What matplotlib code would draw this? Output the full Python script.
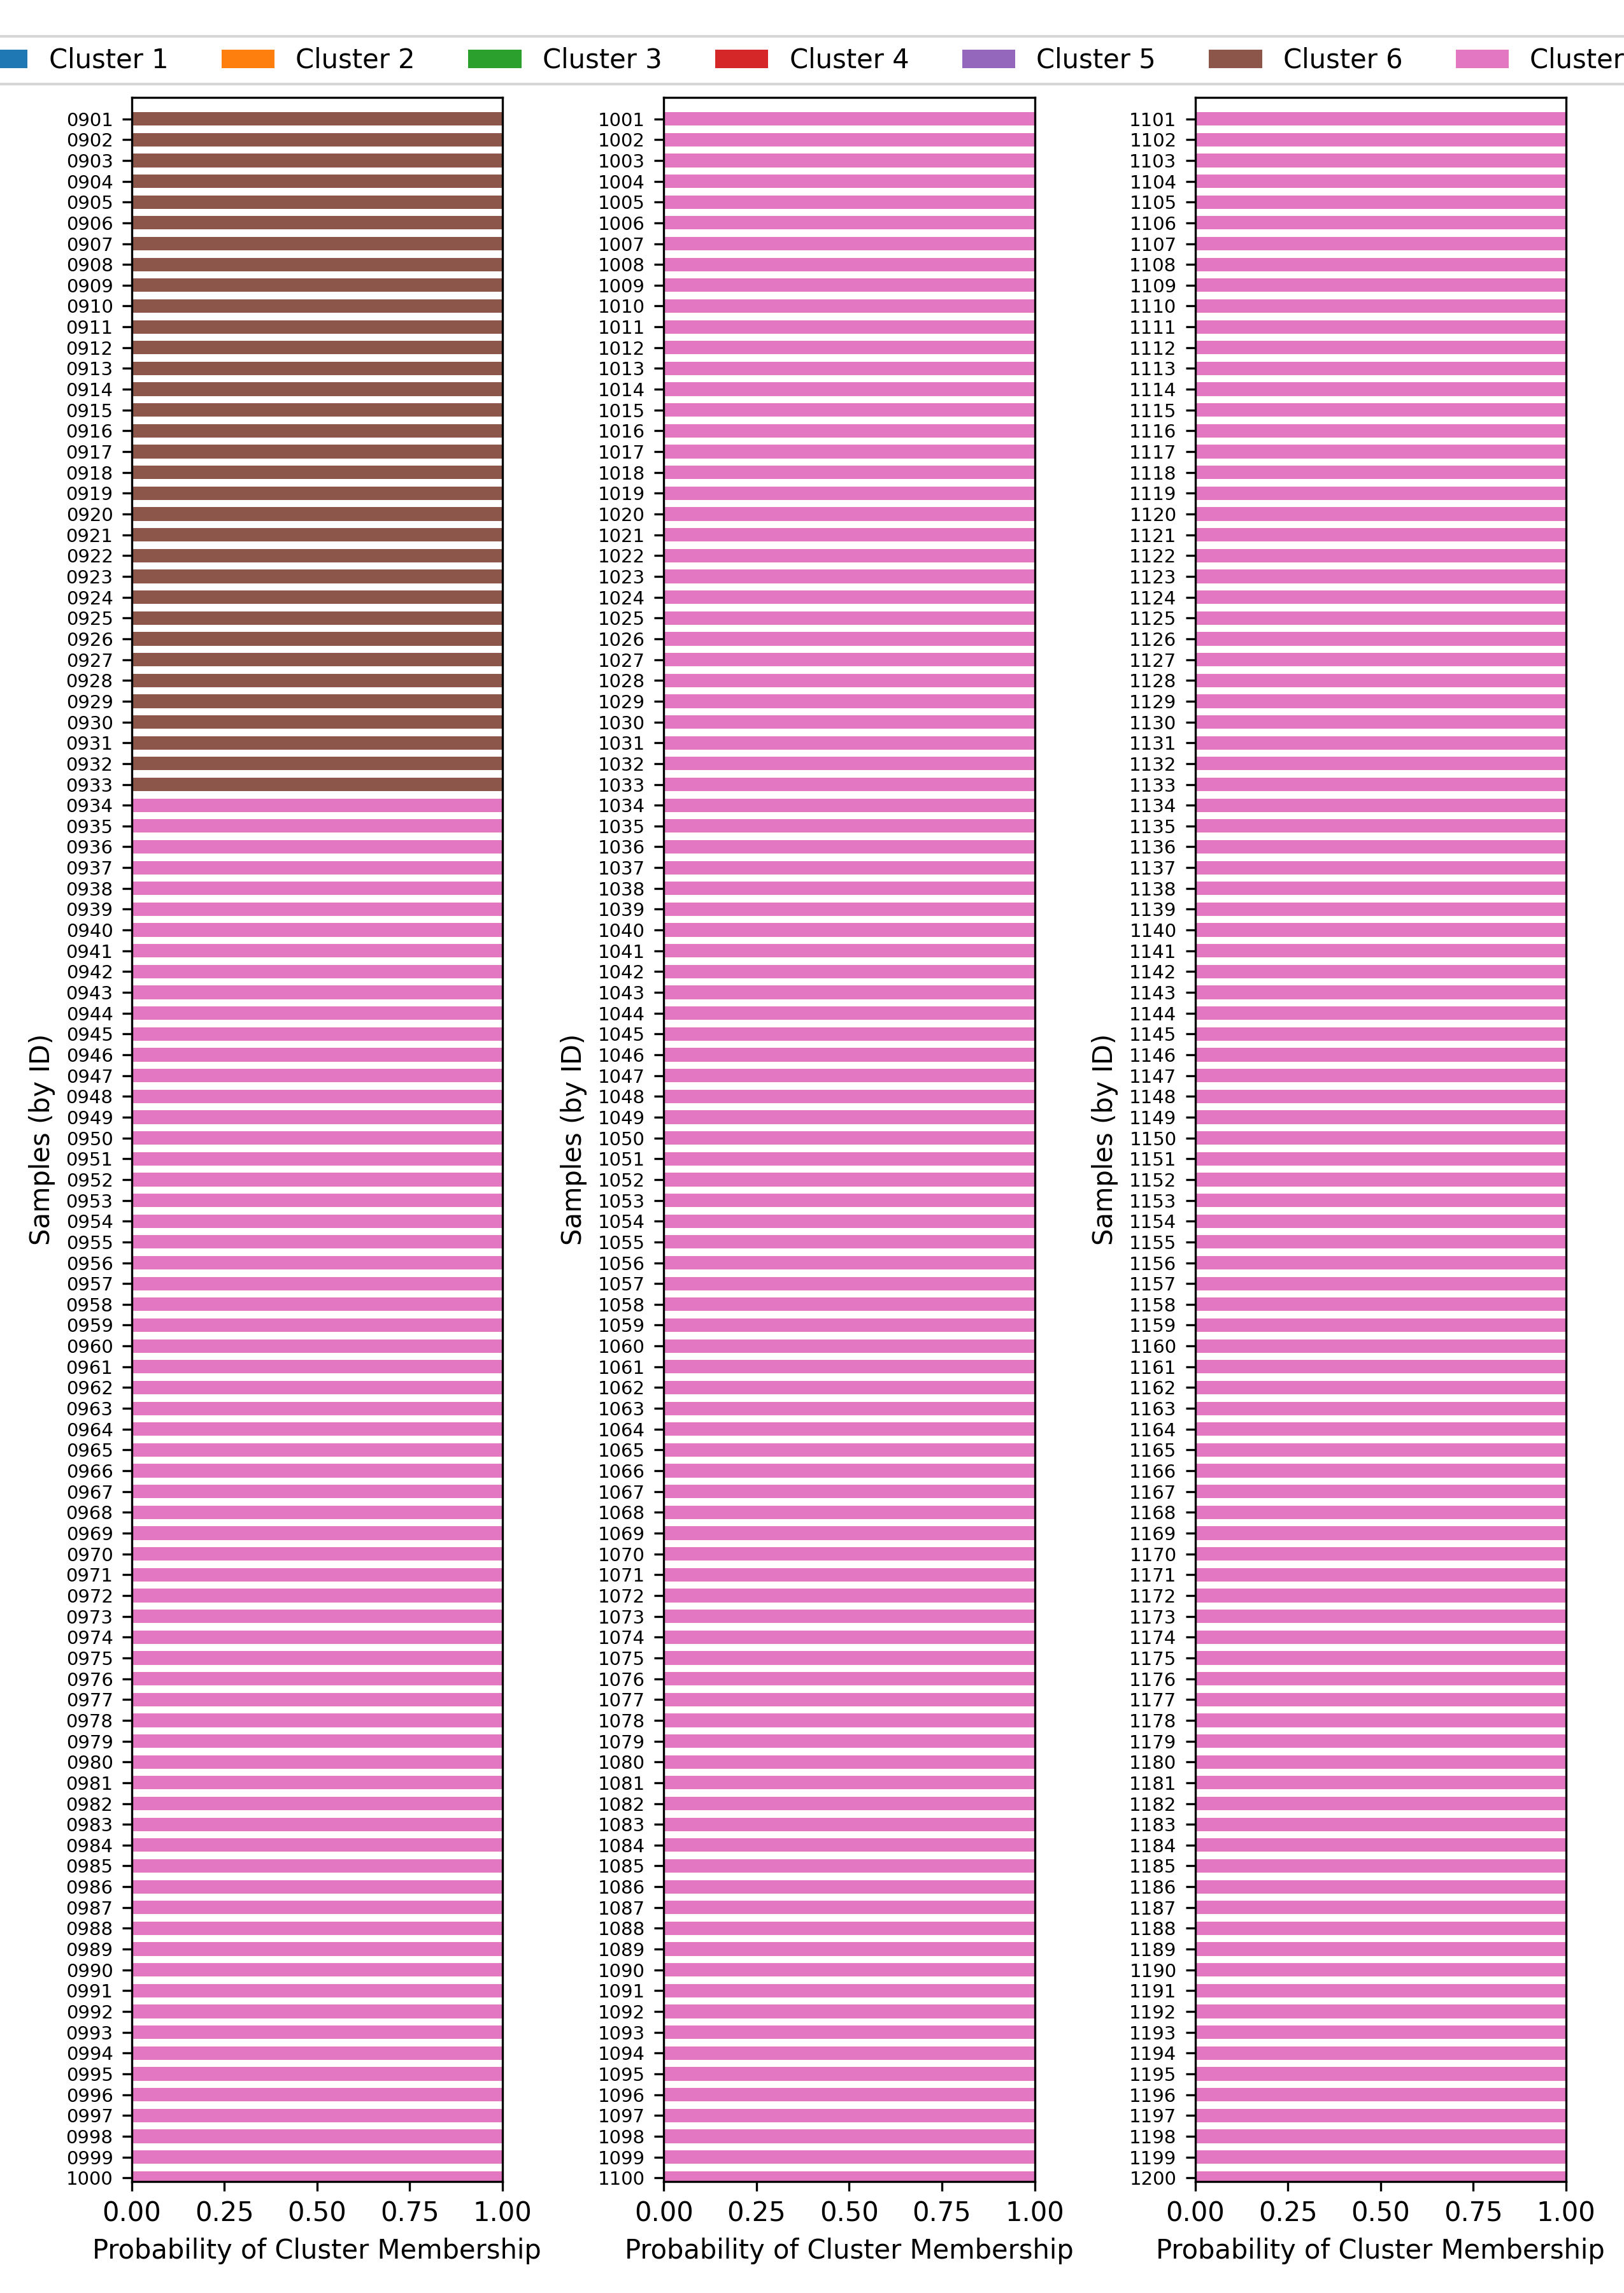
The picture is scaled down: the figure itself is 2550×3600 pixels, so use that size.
import matplotlib
matplotlib.use("Agg")
import matplotlib.pyplot as plt
import numpy as np

# ---------------- data ----------------
cluster_names = ["Cluster 1", "Cluster 2", "Cluster 3", "Cluster 4",
                 "Cluster 5", "Cluster 6", "Cluster 7"]
cluster_colors = ["#1f77b4", "#ff7f0e", "#2ca02c", "#d62728",
                  "#9467bd", "#8c564b", "#e377c2"]

panel1_ids = [f"{i:04d}" for i in range(901, 1001)]
panel2_ids = [f"{i:04d}" for i in range(1001, 1101)]
panel3_ids = [f"{i:04d}" for i in range(1101, 1201)]

# membership probabilities: samples 0901-0933 -> Cluster 6, rest -> Cluster 7
panel1_c6 = [1.0] * 33 + [0.0] * 67
panel1_c7 = [0.0] * 33 + [1.0] * 67
panel2_c6 = [0.0] * 100
panel2_c7 = [1.0] * 100
panel3_c6 = [0.0] * 100
panel3_c7 = [1.0] * 100

zeros = [0.0] * 100
panels = [
    (panel1_ids, [zeros, zeros, zeros, zeros, zeros, panel1_c6, panel1_c7]),
    (panel2_ids, [zeros, zeros, zeros, zeros, zeros, panel2_c6, panel2_c7]),
    (panel3_ids, [zeros, zeros, zeros, zeros, zeros, panel3_c6, panel3_c7]),
]

# ---------------- figure ----------------
fig = plt.figure(figsize=(8.5, 12), dpi=300)
lefts = [206.7 / 2550, 1042.3 / 2550, 1876.7 / 2550]
width = 582.3 / 2550
bottom = 1 - 3425 / 3600
height = (3425 - 153.3) / 3600

handles = None
for left, (ids, probs) in zip(lefts, panels):
    ax = fig.add_axes([left, bottom, width, height])
    y = np.arange(len(ids))
    cum = np.zeros(len(ids))
    hs = []
    for name, color, p in zip(cluster_names, cluster_colors, probs):
        p = np.asarray(p)
        h = ax.barh(y, p, left=cum, height=0.65, color=color, label=name)
        hs.append(h)
        cum = cum + p
    if handles is None:
        handles = hs
    ax.set_yticks(y)
    ax.set_yticklabels(ids, fontsize=7)
    ax.set_ylim(99.175, -1.02)
    ax.set_xlim(0, 1)
    ax.set_xticks([0, 0.25, 0.5, 0.75, 1.0])
    ax.set_xticklabels(["0.00", "0.25", "0.50", "0.75", "1.00"], fontsize=10)
    ax.set_xlabel("Probability of Cluster Membership", fontsize=10)
    ax.set_ylabel("Samples (by ID)", fontsize=10)

fig.legend(handles, cluster_names, loc="upper center",
           bbox_to_anchor=(0.5, 1 - 36.2 / 3600), ncol=7, fontsize=10)

fig.savefig("out.png", dpi=300)
